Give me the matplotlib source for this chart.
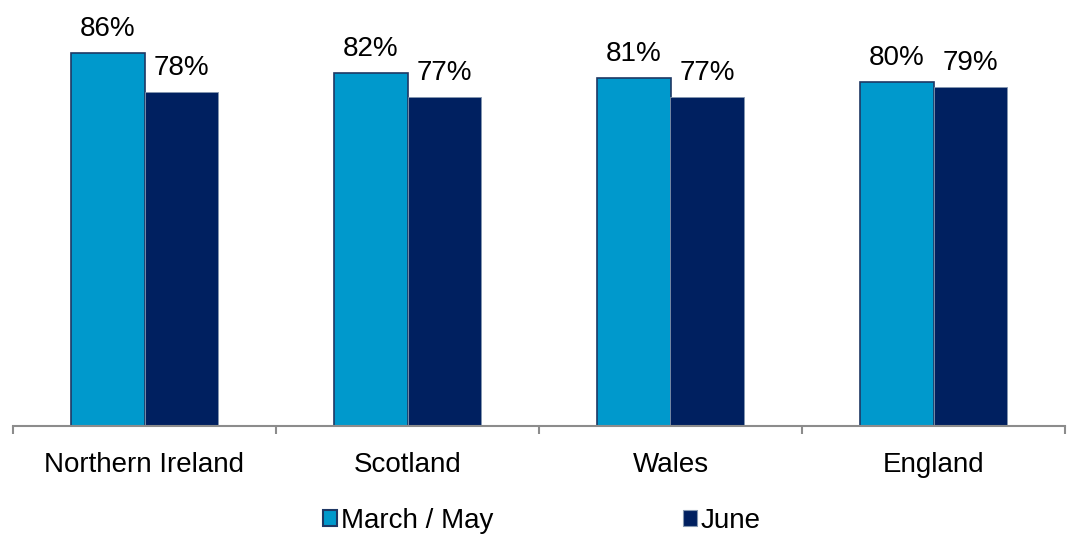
import matplotlib
matplotlib.use("Agg")
import matplotlib.pyplot as plt
import numpy as np
from matplotlib.patches import Patch

plt.rcParams['font.family'] = ['Liberation Sans', 'DejaVu Sans']

categories = ["Northern Ireland", "Scotland", "Wales", "England"]
series_names = ["March / May", "June"]
march_may = [86, 82, 81, 80]
june = [78, 77, 77, 79]

c_march = "#0099CC"
c_june = "#002060"
edge_march = "#1F3864"
edge_june = "#8497B0"

fig = plt.figure(figsize=(10.67, 5.36), dpi=100)
ax = fig.add_axes([13 / 1067, 1 - 426 / 536, 1052 / 1067, 85 * 4.908 / 536])

x = np.arange(len(categories))
w = 0.281
b1 = ax.bar(x - w / 2, march_may, w, bottom=0, color=c_march,
            edgecolor=edge_march, linewidth=1.2, zorder=2)
b2 = ax.bar(x + w / 2, june, w, color=c_june,
            edgecolor=edge_june, linewidth=0.6, zorder=2)

for bars, vals in ((b1, march_may), (b2, june)):
    for rect, v in zip(bars, vals):
        ax.annotate(f"{v}%", (rect.get_x() + rect.get_width() / 2, v),
                    xytext=(0, 17), textcoords="offset pixels",
                    ha="center", va="baseline", fontsize=20, color="black")

ax.set_ylim(10, 95)
ax.set_xlim(-0.5, len(categories) - 0.5)

for side in ("left", "right", "top"):
    ax.spines[side].set_visible(False)
ax.spines["bottom"].set_color("#8C8C8C")
ax.spines["bottom"].set_linewidth(1.5)
ax.set_yticks([])

ax.set_xticks(x)
ax.set_xticklabels(categories, fontsize=20)
ax.tick_params(axis="x", which="major", length=0, pad=19)
ax.set_xticks(np.arange(len(categories) + 1) - 0.5, minor=True)
ax.tick_params(axis="x", which="minor", length=6, width=1.5, color="#8C8C8C",
               direction="out")

handles = [Patch(facecolor=c_march, edgecolor=edge_march, linewidth=1.5),
           Patch(facecolor=c_june, edgecolor=edge_june, linewidth=0.8)]
fig.legend(handles, series_names, loc="center", ncol=2,
           bbox_to_anchor=(542 / 1067, 1 - 521 / 536), frameon=False,
           fontsize=20, handlelength=0.5, handleheight=0.5,
           handletextpad=0.15, columnspacing=6.8, borderpad=0, borderaxespad=0)

fig.savefig("out.png", dpi=100)
